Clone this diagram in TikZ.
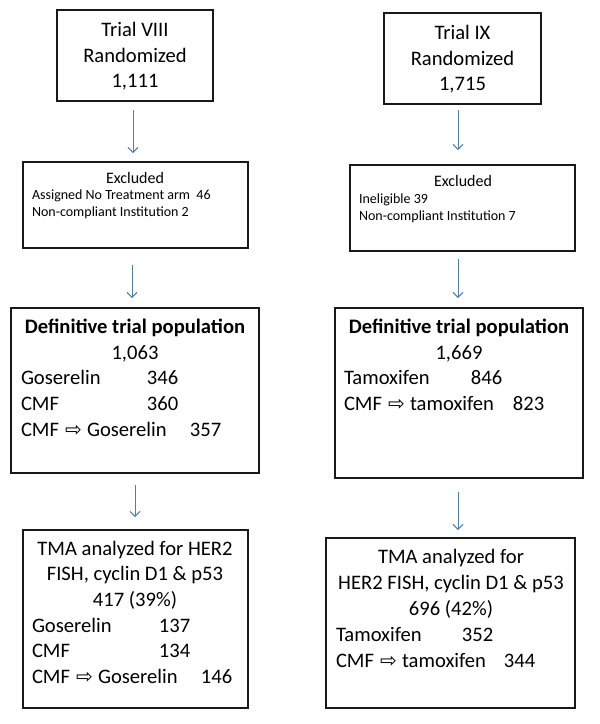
\documentclass[tikz,border=0pt]{standalone}
\usepackage{fontspec}
\setmainfont{Carlito}
\newfontfamily\symfont{DejaVu Sans}
\usetikzlibrary{arrows.meta}
\definecolor{arrblue}{HTML}{4A7EBB}
\newcommand{\rarr}{\makebox[15pt][c]{\symfont\fontsize{20}{20}\selectfont ⇨}}
\begin{document}
\begin{tikzpicture}[x=1pt,y=-1pt,
  box/.style={draw=black!90, line width=1.1pt, inner sep=0pt, outer sep=0pt},
  big/.style={font=\fontsize{20.6}{26}\selectfont, inner sep=0pt, outer sep=0pt},
  bigb/.style={font=\fontsize{20.6}{26}\selectfont\bfseries, inner sep=0pt, outer sep=0pt},
  mid/.style={font=\fontsize{16}{19}\selectfont, inner sep=0pt, outer sep=0pt},
  small/.style={font=\fontsize{14}{17}\selectfont, inner sep=0pt, outer sep=0pt},
  flow/.style={draw=arrblue, line width=0.9pt, -{Straight Barb[length=5pt,width=10pt]}}]
\useasboundingbox (0,0) rectangle (600,724);
\fill[white] (0,0) rectangle (600,724);
% boxes
\node[box, minimum width=156pt, minimum height=91pt] (b1) at (135,55.5) {};
\node[box, minimum width=225pt, minimum height=86pt] (b2) at (135.5,205) {};
\node[box, minimum width=248pt, minimum height=165pt] (b3) at (135,390.5) {};
\node[box, minimum width=225pt, minimum height=178pt] (b4) at (135.5,619) {};
\node[box, minimum width=157pt, minimum height=91pt] (r1) at (462.5,58.5) {};
\node[box, minimum width=225pt, minimum height=86pt] (r2) at (462.5,208) {};
\node[box, minimum width=248pt, minimum height=170pt] (r3) at (459,393) {};
\node[box, minimum width=249pt, minimum height=170pt] (r4) at (450.5,623) {};
% left texts
\node[big, anchor=base] (t1a) at (135,36) {Trial VIII};
\node[big, anchor=base] (t1b) at (135,62) {Randomized};
\node[big, anchor=base] (t1c) at (135,87.5) {1,111};
\node[mid, anchor=base] (t2a) at (135,183) {Excluded};
\node[small, anchor=base west] (t2b) at (32,199) {Assigned No Treatment arm\ \ 46};
\node[small, anchor=base west] (t2c) at (32,216) {Non-compliant Institution 2};
\node[bigb, anchor=base] (t3a) at (135,333) {Definitive trial population};
\node[big, anchor=base] (t3b) at (135,359) {1,063};
\node[big, anchor=base west] (t3c) at (21,384) {\makebox[126pt][l]{Goserelin}346};
\node[big, anchor=base west] (t3d) at (21,410) {\makebox[126pt][l]{CMF}360};
\node[big, anchor=base west] (t3e) at (21,436) {\makebox[169pt][l]{CMF\hspace{7pt}\rarr\hspace{6pt}Goserelin}357};
\node[big, anchor=base] (t4a) at (135,555) {TMA analyzed for HER2};
\node[big, anchor=base] (t4b) at (135,580.5) {FISH, cyclin D1 \& p53};
\node[big, anchor=base] (t4c) at (135,606) {417 (39\%)};
\node[big, anchor=base west] (t4d) at (32,632) {\makebox[127pt][l]{Goserelin}137};
\node[big, anchor=base west] (t4e) at (32,657.5) {\makebox[127pt][l]{CMF}134};
\node[big, anchor=base west] (t4f) at (32,683) {\makebox[169pt][l]{CMF\hspace{7pt}\rarr\hspace{6pt}Goserelin}146};
% right texts
\node[big, anchor=base] (s1a) at (462.5,39) {Trial IX};
\node[big, anchor=base] (s1b) at (462.5,65) {Randomized};
\node[big, anchor=base] (s1c) at (462.5,90.5) {1,715};
\node[mid, anchor=base] (s2a) at (463,186) {Excluded};
\node[small, anchor=base west] (s2b) at (359,203) {Ineligible 39};
\node[small, anchor=base west] (s2c) at (359,220) {Non-compliant Institution 7};
\node[bigb, anchor=base] (s3a) at (459,333) {Definitive trial population};
\node[big, anchor=base] (s3b) at (459,359) {1,669};
\node[big, anchor=base west] (s3c) at (344,384) {\makebox[127pt][l]{Tamoxifen}846};
\node[big, anchor=base west] (s3d) at (344,410) {\makebox[169pt][l]{CMF\hspace{7pt}\rarr\hspace{6pt}tamoxifen}823};
\node[big, anchor=base] (s4a) at (451,563) {TMA analyzed for};
\node[big, anchor=base] (s4b) at (451,589) {HER2 FISH, cyclin D1 \& p53};
\node[big, anchor=base] (s4c) at (451,615) {696 (42\%)};
\node[big, anchor=base west] (s4d) at (336,641) {\makebox[126pt][l]{Tamoxifen}352};
\node[big, anchor=base west] (s4e) at (336,667) {\makebox[168pt][l]{CMF\hspace{7pt}\rarr\hspace{6pt}tamoxifen}344};
% arrows
\draw[flow, shorten <=9pt, shorten >=9pt] ([xshift=-2pt]b1.south) -- ([xshift=-2.5pt]b2.north);
\draw[flow, shorten <=17pt, shorten >=10pt] ([xshift=-3.5pt]b2.south) -- ([xshift=-3pt]b3.north);
\draw[flow, shorten <=12pt, shorten >=13pt] ([xshift=0pt]b3.south) -- ([xshift=-0.5pt]b4.north);
\draw[flow, shorten <=6pt, shorten >=15pt] ([xshift=-4.5pt]r1.south) -- ([xshift=-4.5pt]r2.north);
\draw[flow, shorten <=8pt, shorten >=10pt] ([xshift=-4.5pt]r2.south) -- ([xshift=-1pt]r3.north);
\draw[flow, shorten <=14pt, shorten >=8pt] ([xshift=-1pt]r3.south) -- ([xshift=7.5pt]r4.north);
\end{tikzpicture}
\end{document}
